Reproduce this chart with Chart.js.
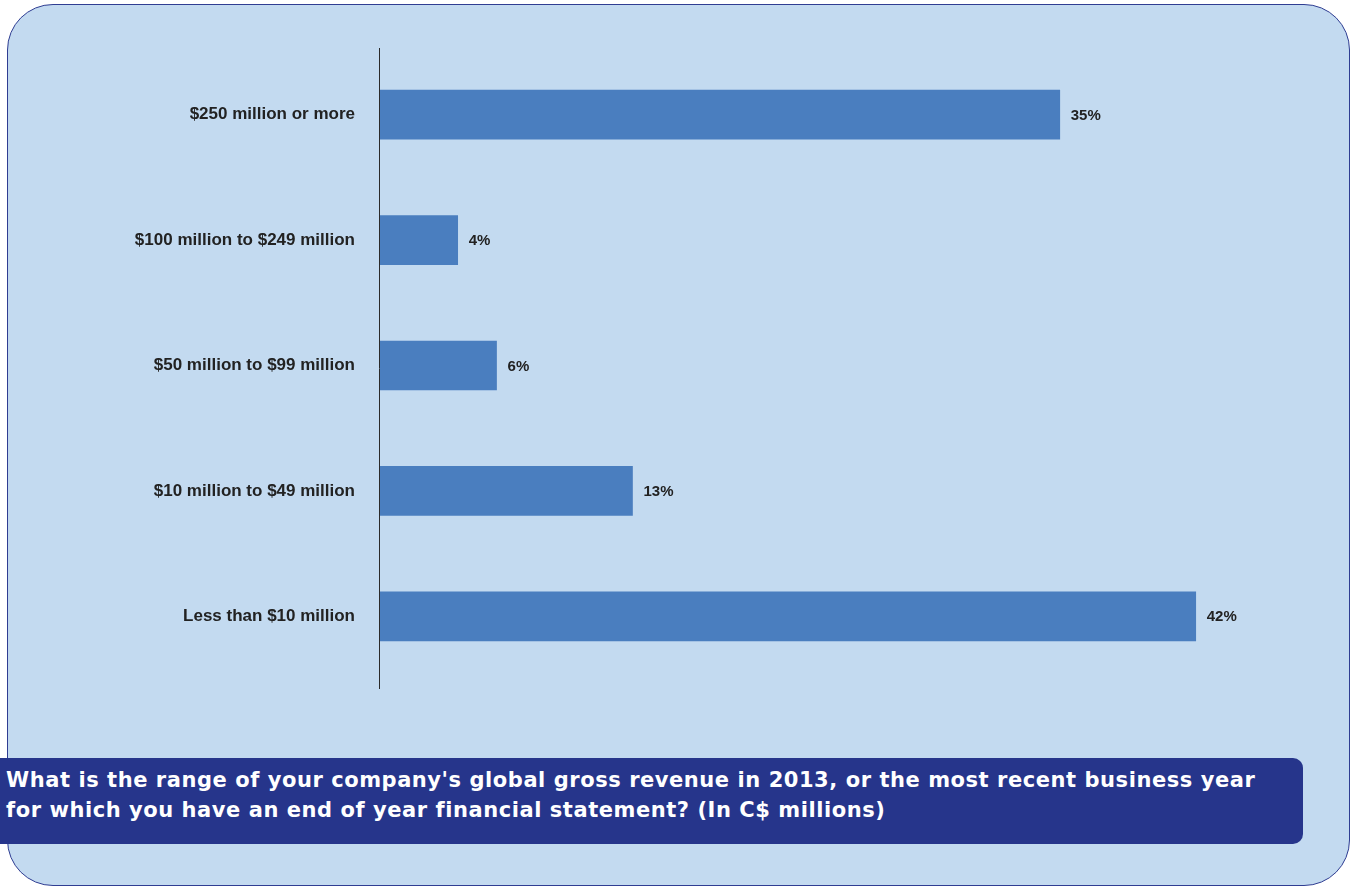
<!DOCTYPE html>
<html>
<head>
<meta charset="utf-8">
<script src="https://cdn.jsdelivr.net/npm/chart.js@4/dist/chart.umd.min.js"></script>
<style>
  html, body { margin: 0; padding: 0; background: #fff; }
  #wrap { position: relative; width: 1357px; height: 888px; overflow: hidden; }
  #panel {
    position: absolute; left: 7px; top: 4px; width: 1341px; height: 880px;
    background: #c3daf0; border: 1.5px solid #2f3d92; border-radius: 46px;
  }
  #chart { position: absolute; left: 0; top: 0; }
  #question {
    position: absolute; left: 0; top: 758px; width: 1303px; height: 86px;
    background: #26358b; border-radius: 0 10px 10px 0;
    color: #fff; font-family: "DejaVu Sans", sans-serif; font-weight: 700;
    font-size: 21px; line-height: 30px; letter-spacing: 0.55px;
    padding: 7px 0 0 6px; box-sizing: border-box;
  }
</style>
</head>
<body>
<div id="wrap">
  <div id="panel"></div>
  <canvas id="chart" width="1357" height="750"></canvas>
  <div id="question">What is the range of your company's global gross revenue in 2013, or the most recent business year<br>for which you have an end of year financial statement? (In C$ millions)</div>
</div>
<script>
const categories = [
  '$250 million or more',
  '$100 million to $249 million',
  '$50 million to $99 million',
  '$10 million to $49 million',
  'Less than $10 million'
];
const shares = [35, 4, 6, 13, 42];

const labelFont = { family: '"Liberation Sans", Arial, sans-serif', size: 17, weight: 'bold' };

// axis line runs a little past the plot area at both ends
const axisLine = {
  id: 'axisLine',
  afterDatasetsDraw(chart) {
    const { ctx, chartArea } = chart;
    ctx.save();
    ctx.strokeStyle = '#2a2a2a';
    ctx.lineWidth = 1;
    ctx.beginPath();
    ctx.moveTo(chartArea.left - 0.5, chartArea.top - 4);
    ctx.lineTo(chartArea.left - 0.5, chartArea.bottom + 10);
    ctx.stroke();
    ctx.restore();
  }
};

// percentage next to each bar
const valueLabels = {
  id: 'valueLabels',
  afterDatasetsDraw(chart) {
    const { ctx } = chart;
    const meta = chart.getDatasetMeta(0);
    ctx.save();
    ctx.fillStyle = '#222';
    ctx.font = 'bold 15px "Liberation Sans", Arial, sans-serif';
    ctx.textAlign = 'left';
    ctx.textBaseline = 'middle';
    meta.data.forEach((bar, i) => {
      ctx.fillText(shares[i] + '%', bar.x + 11, bar.y + 1);
    });
    ctx.restore();
  }
};

new Chart(document.getElementById('chart'), {
  type: 'bar',
  data: {
    labels: categories,
    datasets: [{
      data: shares,
      backgroundColor: '#4a7ebf',
      barThickness: 49
    }]
  },
  options: {
    indexAxis: 'y',
    responsive: false,
    animation: false,
    layout: { padding: { top: 52, bottom: 71, right: 103, left: 0 } },
    plugins: { legend: { display: false }, tooltip: { enabled: false } },
    scales: {
      x: { display: false, min: 0, max: 45 },
      y: {
        grid: { display: false },
        border: { display: false },
        ticks: { color: '#222', font: labelFont, padding: 17 },
        afterFit(scale) { scale.width = 380; }
      }
    }
  },
  plugins: [axisLine, valueLabels]
});
</script>
</body>
</html>
